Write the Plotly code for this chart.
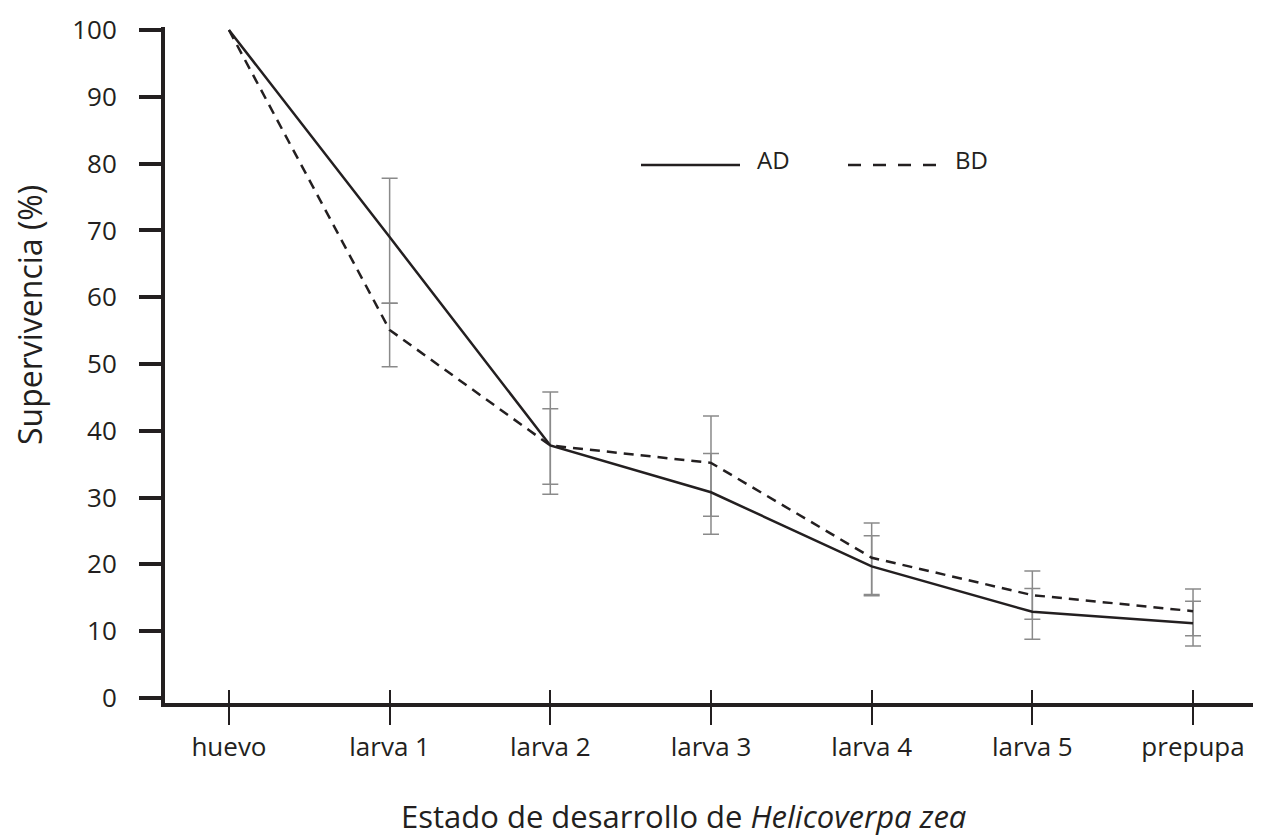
import plotly.graph_objects as go

stages = ["huevo", "larva 1", "larva 2", "larva 3", "larva 4", "larva 5", "prepupa"]
ad_values = [100, 69.0, 37.8, 30.8, 19.7, 12.9, 11.2]
# error bars exist for every stage except "huevo"
ad_err_plus = [8.8, 8.0, 5.8, 4.6, 3.5, 3.3]
ad_err_minus = [9.9, 7.3, 6.3, 4.4, 4.1, 3.4]
bd_values = [100, 55.1, 37.8, 35.2, 21.0, 15.4, 13.0]
bd_err_plus = [4.0, 5.5, 7.0, 5.2, 3.6, 3.3]
bd_err_minus = [5.5, 5.8, 8.0, 5.5, 3.6, 3.7]
y_ticks = [0, 10, 20, 30, 40, 50, 60, 70, 80, 90, 100]

xs = list(range(len(stages)))
FONT = "Open Sans"
INK = "#231f20"
GREY = "#8a8a8a"

# page has an 8px body margin; the figure is offset by it
OFF = 8
W, H = 1253, 832
L, T = 165 - OFF, 27 - OFF
B = H - (703 - OFF)
PW = W - L
PH = H - T - B

fig = go.Figure()
# error bars (stages after huevo)
for vals, ep, em in [(ad_values, ad_err_plus, ad_err_minus), (bd_values, bd_err_plus, bd_err_minus)]:
    fig.add_trace(go.Scatter(
        x=xs[1:], y=vals[1:], mode="markers",
        marker=dict(size=0, opacity=0, color="rgba(0,0,0,0)", line=dict(width=0)),
        showlegend=False, hoverinfo="skip",
        error_y=dict(type="data", symmetric=False, array=ep, arrayminus=em,
                     color=GREY, thickness=1.5, width=8),
    ))
fig.add_trace(go.Scatter(
    x=xs, y=ad_values, mode="lines", name="AD",
    line=dict(color=INK, width=2.5),
))
fig.add_trace(go.Scatter(
    x=xs, y=bd_values, mode="lines", name="BD",
    line=dict(color=INK, width=2.5, dash="10px,7px"),
))
# invisible trace for the overlay axis (inner half of the crossing ticks)
fig.add_trace(go.Scatter(x=xs, y=[None] * len(xs), xaxis="x2", yaxis="y",
                         mode="lines", showlegend=False, hoverinfo="skip"))

xrange = [-0.398, 6.423]
fig.update_layout(
    width=W, height=H,
    margin=dict(l=L, r=0, t=T, b=B, pad=0),
    paper_bgcolor="white", plot_bgcolor="white",
    showlegend=False,
    font=dict(family=FONT, color=INK, size=26),
    xaxis=dict(
        range=xrange, tickvals=xs, ticktext=stages,
        showgrid=False, zeroline=False,
        showline=True, linecolor=INK, linewidth=4,
        ticks="outside", ticklen=18, tickwidth=2, tickcolor=INK,
        tickfont=dict(family=FONT, size=26, color=INK),
        ticklabelstandoff=0,
    ),
    xaxis2=dict(
        range=xrange, tickvals=xs, overlaying="x", anchor="y", side="bottom",
        showgrid=False, zeroline=False, showline=False, showticklabels=False,
        ticks="inside", ticklen=13, tickwidth=2, tickcolor=INK,
    ),
    yaxis=dict(
        range=[-0.75, 100.45], tickvals=y_ticks,
        showgrid=False, zeroline=False,
        showline=True, linecolor=INK, linewidth=4,
        ticks="outside", ticklen=22, tickwidth=4, tickcolor=INK,
        tickfont=dict(family=FONT, size=26, color=INK),
        ticklabelstandoff=17,
    ),
)


def px_x(p):
    return (p - OFF - L) / PW


def px_y(p):
    return (H - B - (p - OFF)) / PH


# axis titles
fig.add_annotation(text="Estado de desarrollo de <i>Helicoverpa zea</i>",
                   xref="paper", yref="paper", x=px_x(683), y=px_y(816),
                   xanchor="center", yanchor="middle", showarrow=False,
                   font=dict(family=FONT, size=31, color=INK))
fig.add_annotation(text="Supervivencia (%)", textangle=-90,
                   xref="paper", yref="paper", x=px_x(30), y=px_y(315),
                   xanchor="center", yanchor="middle", showarrow=False,
                   font=dict(family=FONT, size=32, color=INK))

# manual legend
fig.add_shape(type="line", xref="paper", yref="paper",
              x0=px_x(641), x1=px_x(740), y0=px_y(165), y1=px_y(165),
              line=dict(color=INK, width=2.5))
fig.add_shape(type="line", xref="paper", yref="paper",
              x0=px_x(848), x1=px_x(940), y0=px_y(165), y1=px_y(165),
              line=dict(color=INK, width=2.5, dash="13px,12px"))
fig.add_annotation(text="AD", xref="paper", yref="paper", x=px_x(755), y=px_y(159),
                   xanchor="left", yanchor="middle", showarrow=False,
                   font=dict(family=FONT, size=24, color=INK))
fig.add_annotation(text="BD", xref="paper", yref="paper", x=px_x(953), y=px_y(159),
                   xanchor="left", yanchor="middle", showarrow=False,
                   font=dict(family=FONT, size=24, color=INK))

fig.write_html("out.html")
